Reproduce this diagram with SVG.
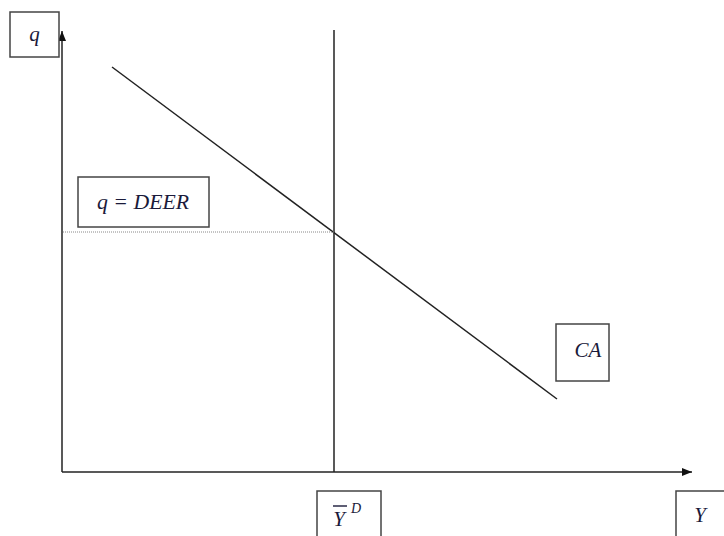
<svg xmlns="http://www.w3.org/2000/svg" width="724" height="536" viewBox="0 0 724 536">
<style>
.box{fill:#fff;stroke:#444;stroke-width:1.5}
.ax{stroke:#222;stroke-width:1.5;fill:none}
text{font-family:"Liberation Serif","DejaVu Serif",serif;font-style:italic;fill:#1a1a3a}
</style>
<defs>
<marker id="ah" viewBox="0 0 10 8" refX="10" refY="4" markerWidth="10" markerHeight="8" markerUnits="userSpaceOnUse" orient="auto">
<path d="M0,0 L10,4 L0,8 Z" fill="#111"/>
</marker>
</defs>
<rect width="724" height="536" fill="#fff"/>
<g id="connectors">
<line class="ax" x1="62" y1="472" x2="62" y2="31" marker-end="url(#ah)"/>
<line class="ax" x1="62" y1="472" x2="692" y2="472" marker-end="url(#ah)"/>
<line class="ax" x1="334" y1="30" x2="334" y2="472" stroke-width="1.2"/>
<line class="ax" x1="112" y1="67" x2="557" y2="399" stroke-width="1.4"/>
<line x1="63" y1="232" x2="334" y2="232" stroke="#888" stroke-width="1" stroke-dasharray="1,1"/>
</g>
<g id="q-label">
<rect class="box" x="10" y="12" width="49" height="45"/>
<text x="34.5" y="41" font-size="21" text-anchor="middle">q</text>
</g>
<g id="deer-label">
<rect class="box" x="78" y="177" width="131" height="50"/>
<text x="143" y="209" font-size="22" text-anchor="middle" textLength="92" lengthAdjust="spacingAndGlyphs">q = DEER</text>
</g>
<g id="ca-label">
<rect class="box" x="556" y="324" width="53" height="57"/>
<text x="588" y="357" font-size="21" text-anchor="middle">CA</text>
</g>
<g id="yd-label">
<rect class="box" x="317" y="491" width="64" height="50"/>
<text x="339" y="526" font-size="21" text-anchor="middle">Y</text>
<line x1="333" y1="506" x2="347" y2="506" stroke="#1a1a3a" stroke-width="1.4"/>
<text x="356" y="513" font-size="14" text-anchor="middle">D</text>
</g>
<g id="y-label">
<rect class="box" x="676" y="491" width="54" height="50"/>
<text x="700" y="522" font-size="21" text-anchor="middle">Y</text>
</g>
</svg>
